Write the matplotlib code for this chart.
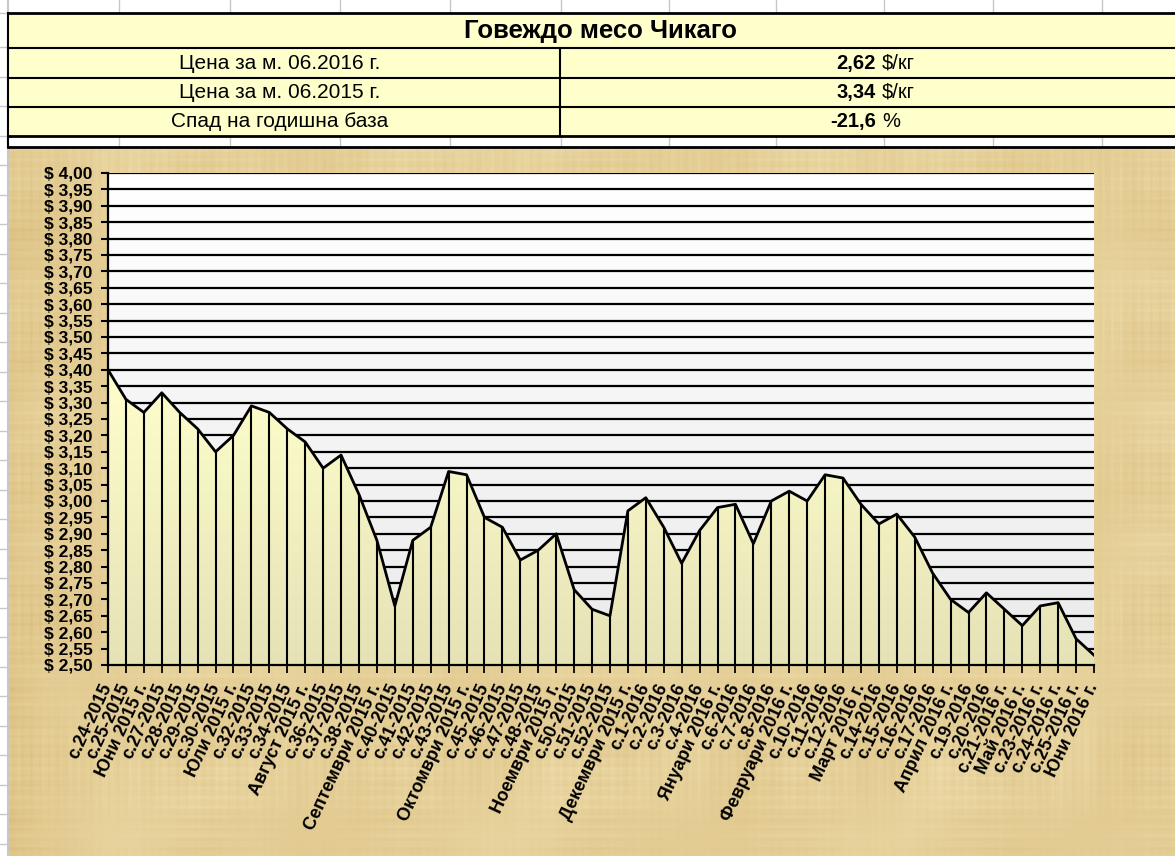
import numpy as np
import matplotlib
matplotlib.use("Agg")
import matplotlib.pyplot as plt
from matplotlib.patches import Polygon, Rectangle

plt.rcParams['font.family'] = ['Liberation Sans', 'DejaVu Sans']

# Седмични цени на говеждо месо, Чикаго ($/кг)
labels = [
    "с.24-2015", "с.25-2015", "Юни 2015 г.", "с.27-2015", "с.28-2015",
    "с.29-2015", "с.30-2015", "Юли 2015 г.", "с.32-2015", "с.33-2015",
    "с.34-2015", "Август 2015 г.", "с.36-2015", "с.37-2015", "с.38-2015",
    "Септември 2015 г.", "с.40-2015", "с.41-2015", "с.42-2015", "с.43-2015",
    "Октомври 2015 г.", "с.45-2015", "с.46-2015", "с.47-2015", "с.48-2015",
    "Ноември 2015 г.", "с.50-2015", "с.51-2015", "с.52-2015", "Декември 2015 г.",
    "с.1-2016", "с.2-2016", "с.3-2016", "с.4-2016", "Януари 2016 г.",
    "с.6-2016", "с.7-2016", "с.8-2016", "Февруари 2016 г.", "с.10-2016",
    "с.11-2016", "с.12-2016", "Март 2016 г.", "с.14-2016", "с.15-2016",
    "с.16-2016", "с.17-2016", "Април 2016 г.", "с.19-2016", "с.20-2016",
    "с.21-2016 г.", "Май 2016 г.", "с.23-2016 г.", "с.24-2016 г.", "с.25-2016 г.",
    "Юни 2016 г.",
]
prices = [
    3.40, 3.31, 3.27, 3.33, 3.27, 3.22, 3.15, 3.20, 3.29, 3.27,
    3.22, 3.18, 3.10, 3.14, 3.02, 2.88, 2.68, 2.88, 2.92, 3.09,
    3.08, 2.95, 2.92, 2.82, 2.85, 2.90, 2.73, 2.67, 2.65, 2.97,
    3.01, 2.92, 2.81, 2.91, 2.98, 2.99, 2.87, 3.00, 3.03, 3.00,
    3.08, 3.07, 2.99, 2.93, 2.96, 2.89, 2.78, 2.70, 2.66, 2.72,
    2.67, 2.62, 2.68, 2.69, 2.58, 2.53,
]
y_ticks = [round(2.50 + 0.05 * i, 2) for i in range(31)]

# таблица над графиката
title = "Говеждо месо Чикаго"
row_names = ["Цена за м. 06.2016 г.", "Цена за м. 06.2015 г.", "Спад на годишна база"]
row_values = ["2,62", "3,34", "-21,6"]
row_units = ["$/кг", "$/кг", "%"]

W, H = 1175, 856
fig = plt.figure(figsize=(W / 100, H / 100), dpi=100)

# фон: лист от таблица + папирус
bg = fig.add_axes([0, 0, 1, 1])
bg.set_xlim(0, W)
bg.set_ylim(H, 0)
bg.axis("off")

grey = "#c8c8c8"
col_x = [119, 230, 340, 450, 561, 669, 776, 884, 993, 1102]
for cx in col_x:
    bg.plot([cx, cx], [0, 12.7], color=grey, lw=1)
    bg.plot([cx, cx], [136, 147], color=grey, lw=1)
bg.plot([8, 8], [0, H], color=grey, lw=1.5)
for ry in [12.7] + [47 + 29.5 * k for k in range(28)]:
    bg.plot([0, 8], [ry, ry], color=grey, lw=1)

# текстура на папируса: вертикални и хоризонтални влакна
ph, pw = 708, 1165
yy, xx = np.mgrid[0:ph, 0:pw].astype(float)
fib_v = (0.5 * np.sin(xx * 0.73 + 1.3) + 0.35 * np.sin(xx * 0.211 + 0.4)
         + 0.45 * np.sin(xx * 0.047 + 2.0) + 0.3 * np.sin(xx * 1.37))
fib_h = (0.5 * np.sin(yy * 0.67 + 0.2) + 0.35 * np.sin(yy * 0.193 + 1.1)
         + 0.45 * np.sin(yy * 0.051 + 0.7) + 0.3 * np.sin(yy * 1.29))
blot = np.sin(xx / 61.0 + np.sin(yy / 37.0)) * np.cos(yy / 53.0 + np.sin(xx / 29.0))
t = (0.55 + 0.09 * fib_v * (0.6 + 0.4 * np.sin(yy / 23.0))
     + 0.09 * fib_h * (0.6 + 0.4 * np.cos(xx / 31.0)) + 0.07 * blot)
t -= 0.22 * np.exp(-xx / 35.0)
t = np.clip(t, 0, 1)[..., None]
dark = np.array([212, 180, 112]) / 255
light = np.array([244, 230, 185]) / 255
paper = dark + (light - dark) * t
bg.imshow(paper, extent=[9, W, H, 148], aspect="auto", zorder=1, interpolation="bilinear")

# таблица
bg.add_patch(Rectangle((8, 12.7), W - 8, 136 - 12.7, facecolor="#ffffcc", edgecolor="none", zorder=2))
for ly, lw in [(12.7, 2), (48, 1.5), (77.7, 1.5), (106.7, 1.5), (136, 2), (146.5, 2)]:
    bg.plot([8, W], [ly, ly], color="black", lw=lw, zorder=3)
bg.plot([8, 8], [12.7, 146.5], color="black", lw=1.5, zorder=3)
bg.plot([560, 560], [48, 136], color="black", lw=1.5, zorder=3)

bg.text(600, 31, title, ha="center", va="center", fontsize=18.5, fontweight="bold", zorder=4)
row_mid = [63, 92.2, 121.3]
for name, val, unit, ym in zip(row_names, row_values, row_units, row_mid):
    bg.text(280, ym, name, ha="center", va="center", fontsize=15, zorder=4)
    bg.text(876, ym, val, ha="right", va="center", fontsize=14.5, fontweight="bold", zorder=4)
    bg.text(882, ym, unit, ha="left", va="center", fontsize=14.5, zorder=4)

# графика
left, right, top, bottom = 108, 1094, 173, 665
ax = fig.add_axes([left / W, 1 - bottom / H, (right - left) / W, (bottom - top) / H])
ax.set_zorder(2)
ax.patch.set_visible(False)
x = np.arange(len(prices))
ax.set_xlim(0, len(prices) - 1)
ax.set_ylim(2.50, 4.00)

grad = np.linspace(1.0, 0.92, 256)[:, None]
ax.imshow(np.dstack([grad, grad, grad]), extent=[0, len(prices) - 1, 2.50, 4.00],
          aspect="auto", zorder=0)
ax.hlines(y_ticks[1:], 0, len(prices) - 1, color="black", lw=1.6, zorder=1)

verts = [(0, 2.50)] + list(zip(x, prices)) + [(len(prices) - 1, 2.50)]
area = Polygon(verts, closed=True, facecolor="none", edgecolor="none")
ax.add_patch(area)
top_c = np.array([255, 255, 204]) / 255
bot_c = np.array([229, 226, 182]) / 255
g = np.linspace(0, 1, 256)[:, None, None]
fill_img = top_c + (bot_c - top_c) * g
fill = ax.imshow(fill_img, extent=[0, len(prices) - 1, 2.50, max(prices)],
                 aspect="auto", zorder=2)
fill.set_clip_path(area)
ax.vlines(x[1:-1], 2.50, prices[1:-1], color="black", lw=1.5, zorder=3)
ax.plot(x, prices, color="black", lw=2, zorder=4, solid_joinstyle="round")

for side in ["top", "right"]:
    ax.spines[side].set_visible(False)
for side in ["left", "bottom"]:
    ax.spines[side].set_linewidth(1.6)
    ax.spines[side].set_zorder(5)

ax.set_yticks(y_ticks)
ax.set_yticklabels([f"$ {v:.2f}".replace(".", ",") for v in y_ticks],
                   fontsize=12.5, fontweight="bold")
ax.tick_params(axis="y", direction="out", length=5, width=1.5, pad=6)
ax.set_xticks(x)
ax.set_xticklabels(labels, fontsize=13, fontweight="bold", rotation=65,
                   ha="right", rotation_mode="anchor", va="center")
ax.tick_params(axis="x", direction="out", length=6, width=1.3, pad=8)

fig.savefig("out.png", dpi=100)
